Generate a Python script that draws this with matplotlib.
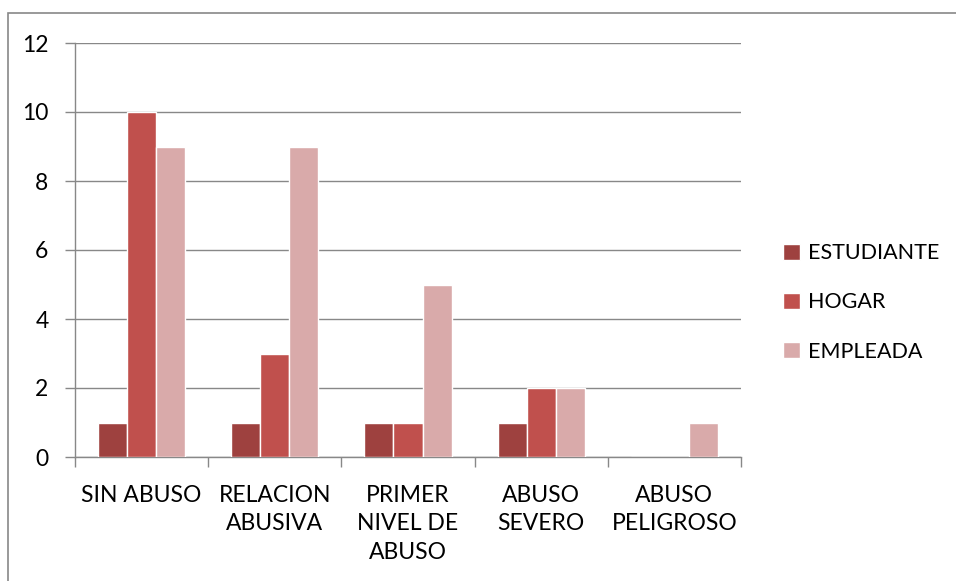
import matplotlib
matplotlib.use("Agg")
import matplotlib.pyplot as plt
import numpy as np
from matplotlib.patches import Rectangle

categories = ["SIN ABUSO", "RELACION\nABUSIVA", "PRIMER\nNIVEL DE\nABUSO", "ABUSO\nSEVERO", "ABUSO\nPELIGROSO"]
series_names = ["ESTUDIANTE", "HOGAR", "EMPLEADA"]
estudiante = [1, 1, 1, 1, 0]
hogar = [10, 3, 1, 2, 0]
empleada = [9, 9, 5, 2, 1]
colors = ["#9E413F", "#C0504D", "#D9AAAA"]
yticks = [0, 2, 4, 6, 8, 10, 12]

plt.rcParams['font.family'] = ['Lato', 'DejaVu Sans']
fig = plt.figure(figsize=(9.56, 5.81), dpi=100)
fig.patches.append(Rectangle((8/956, -0.1), 1.1, (581-13)/581 + 0.1, transform=fig.transFigure,
                             fill=False, edgecolor="#888888", linewidth=1.2))
ax = fig.add_axes([75/956, 1-457/581, (741-75)/956, (457-43)/581])

x = np.arange(len(categories))
w = 0.218
for i, (vals, name) in enumerate(zip([estudiante, hogar, empleada], series_names)):
    ax.bar(x + (i-1)*w, vals, width=w, color=colors[i], edgecolor="white", linewidth=1.0,
           label=name, zorder=3)

ax.set_xlim(-0.5, len(categories)-0.5)
ax.set_ylim(0, 12)
ax.set_yticks(yticks)
ax.yaxis.grid(True, color="#888888", linewidth=1.0, zorder=0)
ax.set_xticks(np.arange(-0.5, len(categories)+0.5, 1))
ax.set_xticklabels([])
ax.set_xticks(x, minor=True)
ax.set_xticklabels(categories, minor=True, fontsize=16.5, linespacing=1.45)
ax.tick_params(axis='x', which='minor', length=0, pad=20)
ax.tick_params(axis='x', which='major', length=7, color="#888888", width=1.0)
ax.tick_params(axis='y', length=7, color="#888888", width=1.0, labelsize=16.5, pad=12)
for s in ["top", "right"]:
    ax.spines[s].set_visible(False)
for s in ["left", "bottom"]:
    ax.spines[s].set_color("#888888")
    ax.spines[s].set_linewidth(1.0)

leg = fig.legend(loc="upper left", bbox_to_anchor=(764/956, 1-224/581), frameon=False,
                 fontsize=15.5, handlelength=0.75, handleheight=0.75, labelspacing=1.35, handletextpad=0.4)

fig.savefig("out.png", dpi=100)
